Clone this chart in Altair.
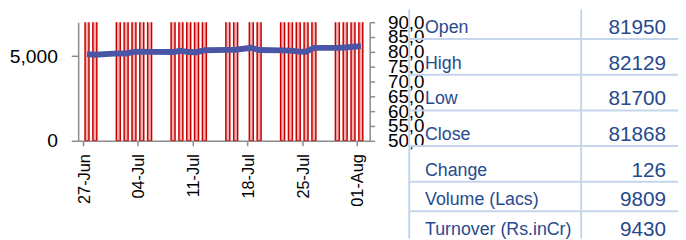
import altair as alt
import pandas as pd

# ---------------- data ----------------
dates = ["2024-06-27", "2024-06-28",
         "2024-07-01", "2024-07-02", "2024-07-03", "2024-07-04", "2024-07-05",
         "2024-07-08", "2024-07-09", "2024-07-10", "2024-07-11", "2024-07-12",
         "2024-07-15", "2024-07-16", "2024-07-18", "2024-07-19",
         "2024-07-22", "2024-07-23", "2024-07-24", "2024-07-25", "2024-07-26",
         "2024-07-29", "2024-07-30", "2024-07-31", "2024-08-01"]
close = [79243, 79032,
         79476, 79441, 79987, 80050, 79997,
         79960, 80352, 79925, 79898, 80519,
         80665, 80717, 81343, 80605,
         80502, 80429, 80149, 80040, 81333,
         81356, 81455, 81741, 81868]
volume = [11200, 9800,
          10400, 9700, 12100, 10900, 9400,
          8900, 10300, 11800, 9900, 12600,
          10100, 9600, 13400, 12200,
          11000, 12900, 10700, 11500, 10800,
          9900, 10600, 11200, 9809]

x_tick_dates = [(2024, 6, 27), (2024, 7, 4), (2024, 7, 11), (2024, 7, 18), (2024, 7, 25), (2024, 8, 1)]
left_ticks = [0, 5000]
right_ticks = [50000, 55000, 60000, 65000, 70000, 75000, 80000, 85000, 90000]

table_labels = ["Open", "High", "Low", "Close", "Change", "Volume (Lacs)", "Turnover (Rs.inCr)"]
table_values = ["81950", "82129", "81700", "81868", "126", "9809", "9430"]

df = pd.DataFrame({"date": dates, "close": close, "volume": volume})
tbl = pd.DataFrame({"label": table_labels, "value": table_values})

# ---------------- layout ----------------
W, H = 295, 120
PAD = {"left": 71, "top": 13, "right": 312, "bottom": 99}
TXT = "#274A8E"
GRID = "#C5D6EC"
AX = "#8C8C8C"


def dt(y, m, d):
    return alt.DateTime(year=y, month=m, date=d, utc=True)


x_enc = alt.X(
    "mid:T",
    title=None,
    scale=alt.Scale(type="utc", domain=[dt(2024, 6, 27), dt(2024, 8, 2)], nice=False),
    axis=alt.Axis(values=[dt(*t) for t in x_tick_dates], format="%d-%b", labelAngle=-90,
                  labelAlign="right", labelBaseline="middle", labelOffset=1,
                  labelFontSize=16.5, tickSize=5, labelPadding=8, labelOverlap=False,
                  labelFlush=False),
)

mid_calc = "toDate(datum.date) + 43200000"

bars = alt.Chart(df).transform_calculate(mid=mid_calc).mark_bar(
    size=4, fill="#F0B0B0", stroke="#C80000", strokeWidth=1.5, clip=True
).encode(
    x=x_enc,
    y=alt.Y("volume:Q", title=None,
            scale=alt.Scale(domain=[0, 7000], nice=False, zero=True),
            axis=alt.Axis(orient="left", values=left_ticks, format=",.0f", labelFontSize=19.5,
                          tickSize=7, labelPadding=14, labelOverlap=False, labelFlush=False)),
)

line = alt.Chart(df).transform_calculate(mid=mid_calc).mark_line(
    color="#4B55A5", strokeWidth=6
).encode(
    x=x_enc,
    y=alt.Y("close:Q", title=None,
            scale=alt.Scale(domain=[50000, 90000], nice=False, zero=False),
            axis=alt.Axis(orient="right", values=right_ticks, format=",.0f", labelFontSize=19,
                          tickSize=5, labelPadding=13, labelOverlap=False, labelFlush=False,
                          labelBound=False)),
)

one = alt.Data(values=[{}])

cover = alt.Chart(one).mark_rect(fill="white").encode(
    x=alt.value(350), x2=alt.value(607), y=alt.value(-13), y2=alt.value(219)
)

row_scale = alt.Scale(domain=[1, 5, 7], range=[4.5, 149, 208.5], nice=False, zero=False)

hrules = alt.Chart(tbl).transform_window(row="row_number()").transform_filter(
    "datum.row <= 6"
).mark_rule(color=GRID, strokeWidth=2, yOffset=12.5).encode(
    y=alt.Y("row:Q", scale=row_scale, axis=None),
    x=alt.value(335), x2=alt.value(607),
)

vrule1 = alt.Chart(one).mark_rule(color=GRID, strokeWidth=2).encode(
    x=alt.value(335), y=alt.value(-13), y2=alt.value(219)
)
vrule2 = alt.Chart(one).mark_rule(color=GRID, strokeWidth=2).encode(
    x=alt.value(509), y=alt.value(-13), y2=alt.value(219)
)

labels = alt.Chart(tbl).transform_window(row="row_number()").mark_text(
    align="left", baseline="middle", font="Liberation Sans", fontSize=18, color=TXT, dy=1.5
).encode(
    x=alt.value(351),
    y=alt.Y("row:Q", scale=row_scale, axis=None),
    text="label:N",
)

values = alt.Chart(tbl).transform_window(row="row_number()").mark_text(
    align="right", baseline="middle", font="Liberation Sans", fontSize=21, color=TXT, dy=1.5
).encode(
    x=alt.value(595),
    y=alt.Y("row:Q", scale=row_scale, axis=None),
    text="value:N",
)

chart = alt.layer(
    bars, line, cover, hrules, vrule1, vrule2, labels, values
).resolve_scale(y="independent").properties(
    width=W, height=H, padding=PAD,
    autosize=alt.AutoSizeParams(type="none"), background="white",
).configure_view(stroke=None).configure_axis(
    domainColor=AX, tickColor=AX, domainWidth=1.5, tickWidth=1.5, grid=False,
    labelColor="black", labelFont="Liberation Sans",
)

chart.save("out.html", embed_options={"renderer": "svg", "actions": False})
